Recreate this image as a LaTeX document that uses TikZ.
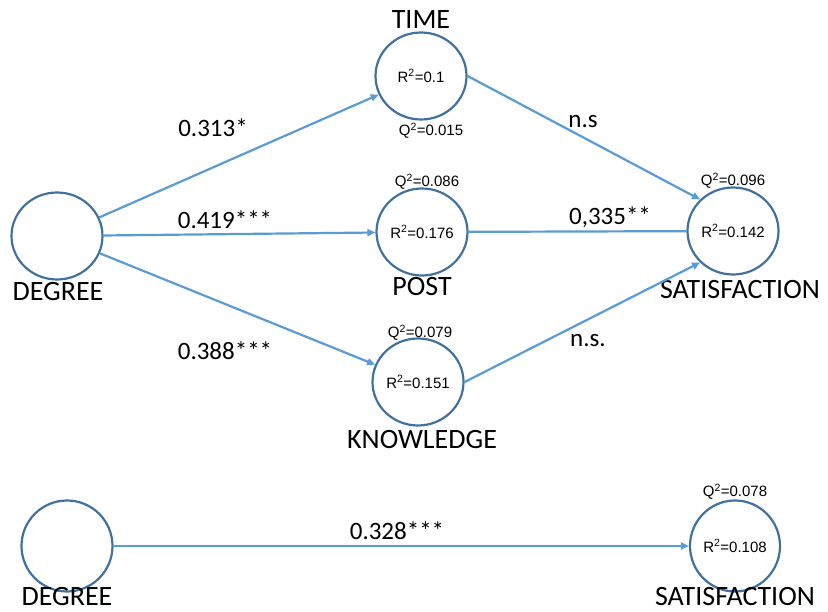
\documentclass[tikz,border=0pt]{standalone}
\usepackage{fontspec}
\setmainfont{Carlito}
\newfontfamily\arialfont{Liberation Sans}
\usetikzlibrary{shapes.geometric,arrows.meta,positioning}
\definecolor{ringblue}{RGB}{65,113,156}
\definecolor{linkblue}{RGB}{91,155,213}
\tikzset{var/.style={ellipse, draw=ringblue, line width=2.2pt, minimum width=91pt, minimum height=87pt, inner sep=0pt, font=\arialfont\fontsize{15}{15}\selectfont},
  varname/.style={inner sep=0pt, font=\fontsize{28}{28}\selectfont},
  coef/.style={inner sep=0pt, font=\fontsize{25}{25}\selectfont},
  stat/.style={inner sep=0pt, font=\arialfont\fontsize{15}{15}\selectfont},
  link/.style={draw=linkblue, line width=2.2pt, -{Triangle[length=8pt,width=7pt]}},
  plainlink/.style={draw=linkblue, line width=2.2pt}}

\begin{document}
\begin{tikzpicture}[x=1pt,y=-1pt]
    \useasboundingbox (0,0) rectangle (828,612);
    \node[var] (D1) at (57,236) {};
    \node[var] (T) at (421,76) {R\textsuperscript{2}=0.1};
    \node[var] (P) at (422,232) {R\textsuperscript{2}=0.176};
    \node[var] (K) at (418,382) {R\textsuperscript{2}=0.151};
    \node[var] (S) at (733,231) {R\textsuperscript{2}=0.142};
    \node[var, minimum width=91pt, minimum height=91pt] (D2) at (67,546) {};
    \node[var, minimum width=90pt, minimum height=91pt] (S2) at (735,546) {R\textsuperscript{2}=0.108};

    \node[varname] (TL) at (421,20) {TIME};
    \node[varname] (PL) at (422,287) {POST};
    \node[varname] (KL) at (422,440) {KNOWLEDGE};
    \node[varname] (SL) at (740,290) {SATISFACTION};
    \node[varname] (D1L) at (58,292) {DEGREE};
    \node[varname] (D2L) at (67,597) {DEGREE};
    \node[varname] (S2L) at (735,597) {SATISFACTION};

    \node[stat] (TQ) at (431,131) {Q\textsuperscript{2}=0.015};
    \node[stat] (PQ) at (427,182) {Q\textsuperscript{2}=0.086};
    \node[stat] (KQ) at (420,333) {Q\textsuperscript{2}=0.079};
    \node[stat] (SQ) at (733,181) {Q\textsuperscript{2}=0.096};
    \node[stat] (S2Q) at (735,492) {Q\textsuperscript{2}=0.078};

    \path[link] (D1) -- (T);
    \path[link] (D1) -- (P);
    \path[link] (D1) -- (K);
    \path[link] (T.east) -- (S.north west);
    \path[plainlink] (P) -- (S);
    \path[link] (K.east) -- (S.south west);
    \path[link] (D2) -- (S2);

    \node[coef] (C1) at (213,128) {0.313*};
    \node[coef] (C2) at (225,220) {0.419***};
    \node[coef] (C3) at (225,351) {0.388***};
    \node[coef] (C4) at (583,122) {n.s};
    \node[coef] (C5) at (610,217) {0,335**};
    \node[coef] (C6) at (588,341) {n.s.};
    \node[coef] (C7) at (397,531) {0.328***};
\end{tikzpicture}
\end{document}
